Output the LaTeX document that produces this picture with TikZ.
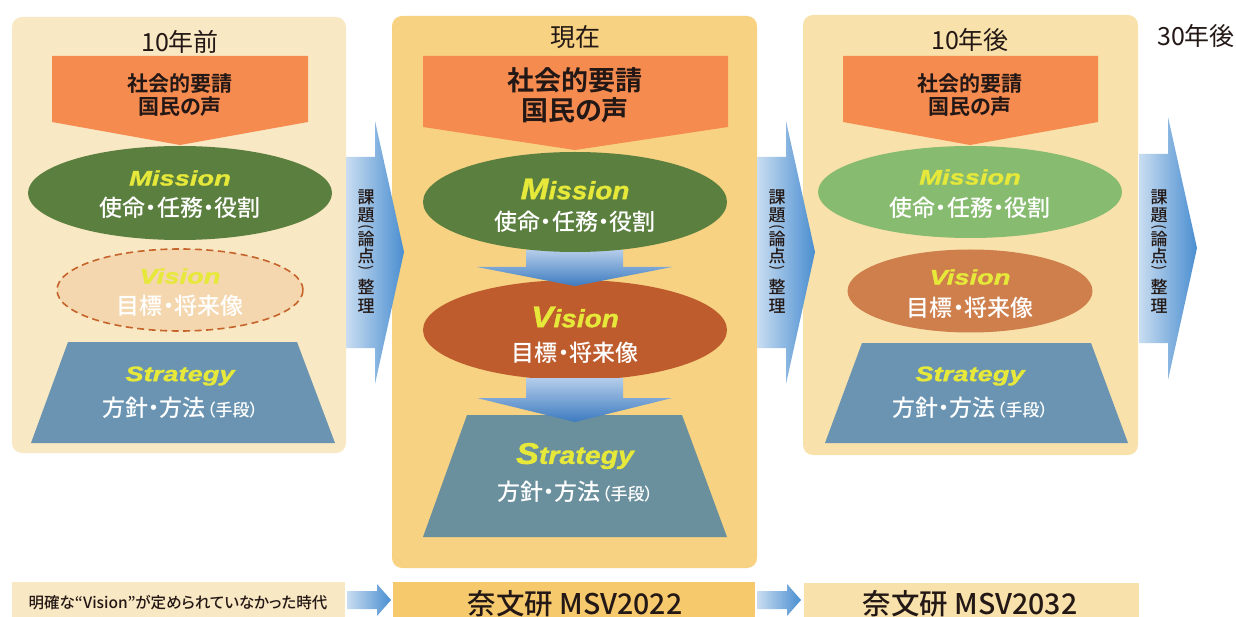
\documentclass[tikz,border=0pt]{standalone}
\usepackage{fontspec}
\usepackage{graphicx}
\setmainfont{Noto Sans CJK JP}[BoldFont={Noto Sans CJK JP Bold}, RawFeature=+palt]
\newfontfamily\jpm{Noto Sans CJK JP Medium}[RawFeature=+palt]
\newfontfamily\lat{Liberation Sans}[BoldItalicFeatures={FakeBold=1.2}]
\usetikzlibrary{shapes.geometric}
\definecolor{txt}{HTML}{231815}
\definecolor{pone}{HTML}{F9E8C4}
\definecolor{ptwo}{HTML}{F6D282}
\definecolor{pthree}{HTML}{F8E1AA}
\definecolor{org}{HTML}{F68B50}
\definecolor{misA}{HTML}{5B7F3F}
\definecolor{misC}{HTML}{87BB70}
\definecolor{visA}{HTML}{F4D7AE}
\definecolor{visBord}{HTML}{C5632B}
\definecolor{visB}{HTML}{BE5C2E}
\definecolor{visC}{HTML}{CE7F4B}
\definecolor{stA}{HTML}{6A94B1}
\definecolor{stB}{HTML}{6A8F9D}
\definecolor{yel}{HTML}{E6E83A}
\definecolor{barB}{HTML}{F5C96C}
\definecolor{arL}{HTML}{C9DDF1}
\definecolor{arR}{HTML}{4A8ED0}
\definecolor{adT}{HTML}{B4CDEA}
\definecolor{adB}{HTML}{3D7BC0}
\newcommand\fsz[1]{\fontsize{#1}{#1}\selectfont}
\newcommand\engt[3]{\scalebox{#2}[1]{\lat\bfseries\itshape\fsz{#1}#3}}
\newcommand\engbig[4]{\scalebox{#1}[1]{\lat\bfseries\itshape{\fsz{30}#2}{\fsz{25}#3}}}
\newcommand\hosaku{方針・方法\kern1.5pt{\fsz{17}（手段）}}
\tikzset{
  lbl/.style={inner sep=0pt, outer sep=0pt},
  dark/.style={lbl, text=txt},
  wht/.style={lbl, text=white, font=\jpm\fsz{23}},
  eng/.style={lbl, text=yel},
  oval/.style={ellipse, inner sep=0pt, draw=none},
  panel/.style={rounded corners=10pt},
  harrow/.style={left color=arL, right color=arR},
  varrow/.style={top color=adT, bottom color=adB},
  vch/.style={dark, font=\jpm\fsz{17}},
  vpar/.style={dark, font=\fsz{15}, rotate=-90},
}
\newcommand\vlabel[2]{%
  \node[vch] (#1a) at (#2,197) {課};
  \node[vch] (#1b) at (#2,215) {題};
  \node[vpar] (#1c) at (#2,227) {(};
  \node[vch] (#1d) at (#2,239) {論};
  \node[vch] (#1e) at (#2,256) {点};
  \node[vpar] (#1f) at (#2,268) {)};
  \node[vch] (#1g) at (#2,287) {整};
  \node[vch] (#1h) at (#2,306) {理};}
\begin{document}
\begin{tikzpicture}[x=1pt,y=-1pt]
\useasboundingbox (0,0) rectangle (1236,617);
\fill[white] (0,0) rectangle (1236,617);

% ---------------- panel 1 ----------------
\fill[pone, panel] (12,17) rectangle (346,453);
\node[dark, font=\fsz{25}] (t1) at (180,42) {10年前};
\fill[org] (52,56) -- (308,56) -- (308,122) -- (180,145) -- (52,122) -- cycle;
\node[dark, font=\bfseries\fsz{21}] (o1a) at (180,84) {社会的要請};
\node[dark, font=\bfseries\fsz{21}] (o1b) at (180,107) {国民の声};
\node[oval, fill=misA, minimum width=304pt, minimum height=94pt] (m1) at (180,193) {};
\node[eng] (m1e) at (180,178) {\engt{21}{1.3}{Mission}};
\node[wht] (m1j) at (180,208) {使命・任務・役割};
\node[oval, fill=visA, draw=visBord, line width=1.6pt, dash pattern=on 7pt off 4.5pt,
      minimum width=246pt, minimum height=82pt] (v1) at (180,290) {};
\node[eng] (v1e) at (180,276) {\engt{21}{1.3}{Vision}};
\node[wht] (v1j) at (180,306) {目標・将来像};
\fill[stA] (68,342) -- (297,342) -- (335,443) -- (31,443) -- cycle;
\node[eng] (s1e) at (180,376) {\engt{21}{1.3}{Strategy}};
\node[wht] (s1j) at (180,408) {\hosaku};

% ---------------- panel 2 ----------------
\fill[ptwo, panel] (392,16) rectangle (757,568);
\node[dark, font=\fsz{25}] (t2) at (575,37) {現在};
\fill[org] (423,56) -- (728,56) -- (728,127) -- (575,150) -- (423,127) -- cycle;
\node[dark, font=\bfseries\fsz{27}] (o2a) at (575,80) {社会的要請};
\node[dark, font=\bfseries\fsz{27}] (o2b) at (575,110) {国民の声};
\fill[stB] (467,415) -- (682,415) -- (727,537) -- (423,537) -- cycle;
\node[oval, fill=visB, minimum width=304pt, minimum height=100pt] (v2) at (575,330) {};
\shade[varrow] (526,250) -- (623,250) -- (623,267) -- (672,267) -- (575,286)
   -- (477,267) -- (526,267) -- cycle;
\shade[varrow] (526,378) -- (623,378) -- (623,398) -- (672,398) -- (575,422)
   -- (477,398) -- (526,398) -- cycle;
\node[oval, fill=misA, minimum width=304pt, minimum height=100pt] (m2) at (575,202) {};
\node[eng] (m2e) at (575,189) {\engbig{1.12}{M}{ission}{}};
\node[wht] (m2j) at (575,222) {使命・任務・役割};
\node[eng] (v2e) at (575,317) {\engbig{1.12}{V}{ision}{}};
\node[wht] (v2j) at (575,353) {目標・将来像};
\node[eng] (s2e) at (575,456) {\engbig{1.14}{S}{trategy}{}};
\node[wht] (s2j) at (575,492) {\hosaku};

% ---------------- panel 3 ----------------
\fill[pthree, panel] (803,15) rectangle (1138,455);
\node[dark, font=\fsz{25}] (t3) at (970,40) {10年後};
\node[dark, font=\fsz{25}] (t4) at (1196,36) {30年後};
\fill[org] (843,56) -- (1098,56) -- (1098,122) -- (970,145) -- (843,122) -- cycle;
\node[dark, font=\bfseries\fsz{21}] (o3a) at (970,84) {社会的要請};
\node[dark, font=\bfseries\fsz{21}] (o3b) at (970,107) {国民の声};
\node[oval, fill=misC, minimum width=304pt, minimum height=92pt] (m3) at (970,192) {};
\node[eng] (m3e) at (970,177) {\engt{21}{1.3}{Mission}};
\node[wht] (m3j) at (970,208) {使命・任務・役割};
\node[oval, fill=visC, minimum width=245pt, minimum height=83pt] (v3) at (970,291) {};
\node[eng] (v3e) at (970,277) {\engt{21}{1.3}{Vision}};
\node[wht] (v3j) at (970,308) {目標・将来像};
\fill[stA] (862,343) -- (1091,343) -- (1128,443) -- (825,443) -- cycle;
\node[eng] (s3e) at (970,376) {\engt{21}{1.3}{Strategy}};
\node[wht] (s3j) at (970,408) {\hosaku};

% ---------------- big arrows ----------------
\shade[harrow] (346,157) -- (375,157) -- (375,121) -- (404,252) -- (375,384)
   -- (375,348) -- (346,348) -- cycle;
\vlabel{aa}{366}
\shade[harrow] (757,157) -- (786,157) -- (786,121) -- (815,252) -- (786,384)
   -- (786,348) -- (757,348) -- cycle;
\vlabel{ab}{777}
\shade[harrow] (1139,154) -- (1168,154) -- (1168,117) -- (1197,248) -- (1168,380)
   -- (1168,343) -- (1139,343) -- cycle;
\vlabel{ac}{1159}

% ---------------- bottom bars ----------------
\fill[pone] (12,582) rectangle (345,620);
\node[dark, font=\jpm\fsz{15.5}] (b1) at (178,603) {明確な“Vision”が定められていなかった時代};
\shade[harrow] (347,591) -- (377,591) -- (377,584) -- (391,600) -- (377,616)
   -- (377,609) -- (347,609) -- cycle;
\fill[barB] (393,582) rectangle (755,620);
\node[dark, font=\jpm\fsz{28.5}] (b2) at (575,604) {奈文研 MSV2022};
\shade[harrow] (757,591) -- (787,591) -- (787,584) -- (801,600) -- (787,616)
   -- (787,609) -- (757,609) -- cycle;
\fill[pthree] (804,583) rectangle (1139,620);
\node[dark, font=\jpm\fsz{28.5}] (b3) at (970,604) {奈文研 MSV2032};
\end{tikzpicture}
\end{document}
